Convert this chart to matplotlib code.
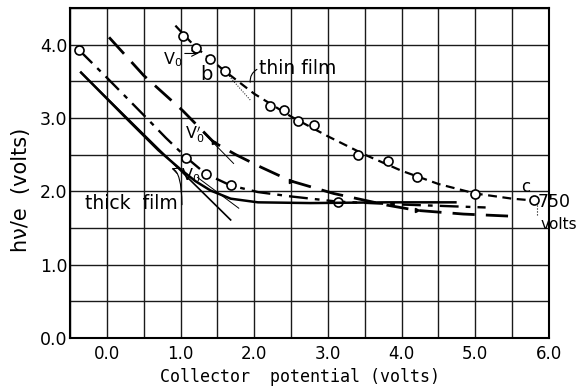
import matplotlib
matplotlib.use("Agg")
import matplotlib.pyplot as plt
import numpy as np

# thin film (curve b), measured points and the drawn curve
thin_pts_x = [1.04, 1.21, 1.40, 1.61, 2.21, 2.41, 2.60, 2.81, 3.41, 3.81, 4.21, 5.00, 5.79]
thin_pts_y = [4.12, 3.95, 3.81, 3.64, 3.16, 3.11, 2.96, 2.91, 2.49, 2.41, 2.19, 1.97, 1.88]
thin_curve_x = [0.93, 1.20, 1.60, 2.00, 2.50, 3.00, 3.50, 4.00, 4.50, 5.00, 5.50, 5.85]
thin_curve_y = [4.26, 3.97, 3.64, 3.33, 3.02, 2.75, 2.50, 2.28, 2.10, 1.97, 1.90, 1.87]
thin_tangent_x = [1.59, 1.95]
thin_tangent_y = [3.65, 3.24]

# long dashed curve
dash_x = [0.03, 0.50, 1.03, 1.45, 1.75, 2.09, 2.50, 3.08, 3.81, 4.21, 4.84, 5.51]
dash_y = [4.10, 3.58, 3.10, 2.67, 2.50, 2.33, 2.14, 1.97, 1.81, 1.74, 1.69, 1.66]
dash_tangent_x = [1.31, 1.72]
dash_tangent_y = [2.80, 2.38]

# dash-dot curve with open circles
dd_pts_x = [-0.38, 1.08, 1.34, 1.68, 3.13]
dd_pts_y = [3.93, 2.46, 2.24, 2.08, 1.86]
dd_curve_x = [-0.38, 0.00, 0.50, 0.80, 1.08, 1.34, 1.68, 2.05, 2.50, 3.13, 4.00, 5.14]
dd_curve_y = [3.93, 3.55, 3.04, 2.73, 2.46, 2.24, 2.08, 1.99, 1.93, 1.86, 1.82, 1.78]

# thick film solid curve and its tangents
thick_x = [-0.35, 0.30, 0.70, 1.00, 1.20, 1.41, 1.68, 2.05, 2.76, 3.80, 4.73]
thick_y = [3.62, 2.96, 2.56, 2.30, 2.14, 2.01, 1.90, 1.85, 1.84, 1.85, 1.85]
thick_tangent_x = [-0.35, 1.68]
thick_tangent_y = [3.62, 1.61]
thick_tangent2_x = [1.23, 1.79]
thick_tangent2_y = [2.19, 1.77]

x_ticks = [0, 1, 2, 3, 4, 5, 6]
y_ticks = [0, 1, 2, 3, 4]

fig = plt.figure(figsize=(5.82, 3.91), dpi=100)
ax = fig.add_axes([70 / 582, 53 / 391, 479 / 582, 330 / 391])
ax.set_xlim(-0.5, 6.0)
ax.set_ylim(0, 4.5)

ax.set_xticks(x_ticks)
ax.set_xticklabels([f"{v:.1f}" for v in x_ticks])
ax.set_yticks(y_ticks)
ax.set_yticklabels([f"{v:.1f}" for v in y_ticks])
ax.set_xticks(np.arange(-0.5, 6.01, 0.5), minor=True)
ax.set_yticks(np.arange(0, 4.51, 0.5), minor=True)
ax.grid(True, which="both", color="#1a1a1a", lw=1.0)
ax.set_axisbelow(True)
ax.tick_params(which="both", length=0)
ax.tick_params(axis="x", labelsize=12, pad=5)
ax.tick_params(axis="y", labelsize=12.5, pad=2)
for s in ax.spines.values():
    s.set_linewidth(1.5)

ax.set_xlabel("Collector  potential (volts)", family="DejaVu Sans Mono", fontsize=12)
ax.xaxis.set_label_coords(0.48, -0.09)
ax.set_ylabel("h\u03bd/e  (volts)", fontsize=15)
ax.yaxis.set_label_coords(-0.082, 0.45)

ink = "black"
ax.plot(thin_curve_x, thin_curve_y, color=ink, lw=1.6, dashes=(4, 2.5))
ax.plot(thin_tangent_x, thin_tangent_y, color=ink, lw=0.7, ls=":")
ax.plot(thin_pts_x, thin_pts_y, "o", ms=6.5, mfc="white", mec=ink, mew=1.2)

ax.plot(dash_x, dash_y, color=ink, lw=2.0, dashes=(8, 4))
ax.plot(dash_x[3::3], dash_y[3::3], ">", ms=3, color=ink)
ax.plot(dash_tangent_x, dash_tangent_y, color=ink, lw=0.7)

ax.plot(dd_curve_x, dd_curve_y, color=ink, lw=1.7, dashes=(8, 3, 2, 3))
ax.plot(dd_pts_x, dd_pts_y, "o", ms=6.5, mfc="white", mec=ink, mew=1.2)

ax.plot(thick_x, thick_y, color=ink, lw=1.8)
ax.plot(thick_tangent_x, thick_tangent_y, color=ink, lw=1.2)
ax.plot(thick_tangent2_x, thick_tangent2_y, color=ink, lw=0.7)

ax.text(2.07, 3.67, "thin film", va="center", fontsize=13.5)
ax.text(-0.30, 1.84, "thick  film", va="center", fontsize=13.5)
ax.text(1.27, 3.60, "b", va="center", fontsize=14)
ax.text(5.62, 2.06, "c", va="center", fontsize=12)
ax.text(5.84, 1.86, "750", va="center", fontsize=12.5)
ax.text(5.88, 1.55, "volts", va="center", fontsize=11)
ax.plot([5.84, 5.84], [1.82, 1.68], color=ink, lw=0.8, ls=":")

ax.text(0.76, 3.80, "V$_0$", va="center", fontsize=11.5)
ax.annotate("", xy=(1.28, 3.88), xytext=(1.02, 3.88),
            arrowprops=dict(arrowstyle="->", lw=0.8, color=ink))
ax.text(1.06, 2.78, "V$_0'$", va="center", fontsize=11.5)
ax.text(1.01, 2.22, "V$_0$", va="center", fontsize=11.5)

# curly leaders from the labels to the curves
ax.annotate("", xy=(1.95, 3.45), xytext=(2.07, 3.68),
            arrowprops=dict(arrowstyle="-", lw=0.8, color=ink,
                            connectionstyle="arc3,rad=0.4"))
ax.annotate("", xy=(0.84, 2.32), xytext=(1.02, 1.78),
            arrowprops=dict(arrowstyle="->", lw=0.8, color=ink,
                            connectionstyle="angle3,angleA=90,angleB=0"))

fig.savefig("out.png", dpi=100)
